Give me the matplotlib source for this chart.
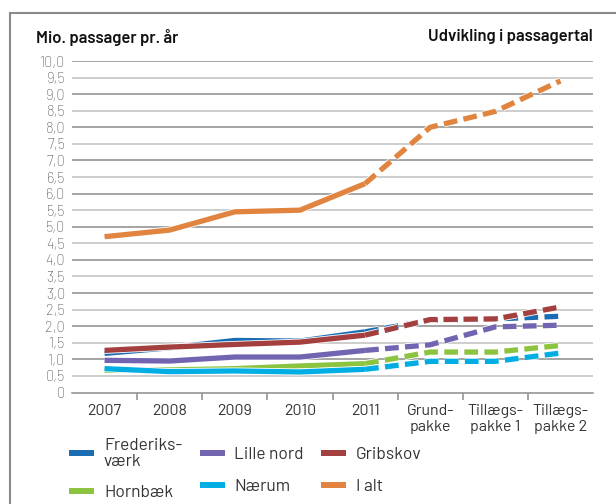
import numpy as np
import matplotlib
matplotlib.use('Agg')
import matplotlib.pyplot as plt
import matplotlib.patheffects as pe
from matplotlib.patches import Rectangle
from matplotlib.lines import Line2D

plt.rcParams['font.family'] = ['Barlow', 'DejaVu Sans']

categories = ['2007', '2008', '2009', '2010', '2011',
              'Grund-\npakke', 'Tillægs-\npakke 1', 'Tillægs-\npakke 2']
n_actual = 5  # 2007-2011 is measured, the rest is forecast (dashed)

series_names = ['Frederiks-\nværk', 'Lille nord', 'Gribskov', 'Hornbæk', 'Nærum', 'I alt']
frederiksvaerk = [1.18, 1.35, 1.57, 1.55, 1.83, 2.18, 2.22, 2.30]
lille_nord = [0.97, 0.95, 1.07, 1.07, 1.27, 1.44, 1.98, 2.03]
gribskov = [1.27, 1.37, 1.45, 1.52, 1.73, 2.20, 2.22, 2.58]
hornbaek = [0.67, 0.68, 0.72, 0.80, 0.87, 1.22, 1.22, 1.42]
naerum = [0.72, 0.63, 0.65, 0.62, 0.70, 0.94, 0.94, 1.19]
i_alt = [4.70, 4.90, 5.45, 5.50, 6.30, 8.00, 8.48, 9.40]
series = [frederiksvaerk, lille_nord, gribskov, hornbaek, naerum, i_alt]
colors = ['#1a6db3', '#7264b0', '#a3403f', '#8cc440', '#00aee3', '#e0843f']

yticks = np.arange(0, 10.01, 0.5)
ylabels = ['0'] + [('%.1f' % v).replace('.', ',') for v in yticks[1:]]

fig = plt.figure(figsize=(6.16, 5.04), dpi=100)
ax = fig.add_axes([72/616, 1-392.5/504, 521/616, 331.5/504])

# frame around the whole figure
fig.patches.append(Rectangle((10/616, -0.05), 1.0, 1-13/504+0.05, transform=fig.transFigure,
                             fill=False, edgecolor='#8a8a8a', linewidth=1.5))

x = np.arange(len(categories))
lw = 3.8
for vals, c in zip(series, colors):
    vals = np.array(vals)
    fx = [pe.Stroke(linewidth=lw+1.2, foreground='white'), pe.Normal()]
    ax.plot(x[:n_actual], vals[:n_actual], color=c, lw=lw, solid_capstyle='butt',
            path_effects=fx, zorder=3)
    ax.plot(x[n_actual-1:], vals[n_actual-1:], color=c, lw=lw, dashes=(2.6, 1.2),
            dash_capstyle='butt', path_effects=fx, zorder=3)

# grid
for v in yticks[1:]:
    whole = abs(v - round(v)) < 1e-6
    ax.axhline(v, color='#8c8c8c' if whole else '#c0c0c0', lw=1.1, zorder=1)

ax.set_xlim(-0.5, 7.5)
ax.set_ylim(0, 10)
ax.set_yticks(yticks)
ax.set_yticklabels(ylabels, fontsize=10.5, color='#444444', fontweight='light')
ax.set_xticks(x)
ax.set_xticklabels(categories, fontsize=11.5, color='#333333', linespacing=1.2)
ax.set_xticks(np.arange(0.5, 7, 1), minor=True)
ax.tick_params(axis='x', which='major', length=0, pad=8)
ax.tick_params(axis='x', which='minor', length=5, color='#8c8c8c', width=1.1)
ax.tick_params(axis='y', length=0, pad=5)
for s in ['left', 'right', 'top']:
    ax.spines[s].set_visible(False)
ax.spines['bottom'].set_color('#8c8c8c')
ax.spines['bottom'].set_linewidth(1.1)

fig.text(36/616, 1-37/504, 'Mio. passager pr. år', fontsize=12, fontweight='semibold',
         ha='left', va='center', color='#111111')
fig.text(593/616, 1-37/504, 'Udvikling i passagertal', fontsize=12, fontweight='semibold',
         ha='right', va='center', color='#111111')

# legend fills column by column, so reorder to get rows F/L/G and H/N/I
order = [0, 3, 1, 4, 2, 5]
handles = [Line2D([], [], color=colors[i], lw=4.3, solid_capstyle='butt') for i in order]
labels = [series_names[i] for i in order]
leg = fig.legend(handles, labels, loc='upper left', bbox_to_anchor=(69/616, 1-438/504),
                 ncol=3, frameon=False, fontsize=12.5, handlelength=1.44, handletextpad=0.57,
                 columnspacing=1.0, labelspacing=0.95, borderpad=0, borderaxespad=0)
for t in leg.get_texts():
    t.set_color('#333333')
    t.set_linespacing(1.05)

fig.savefig('out.png', dpi=100)
